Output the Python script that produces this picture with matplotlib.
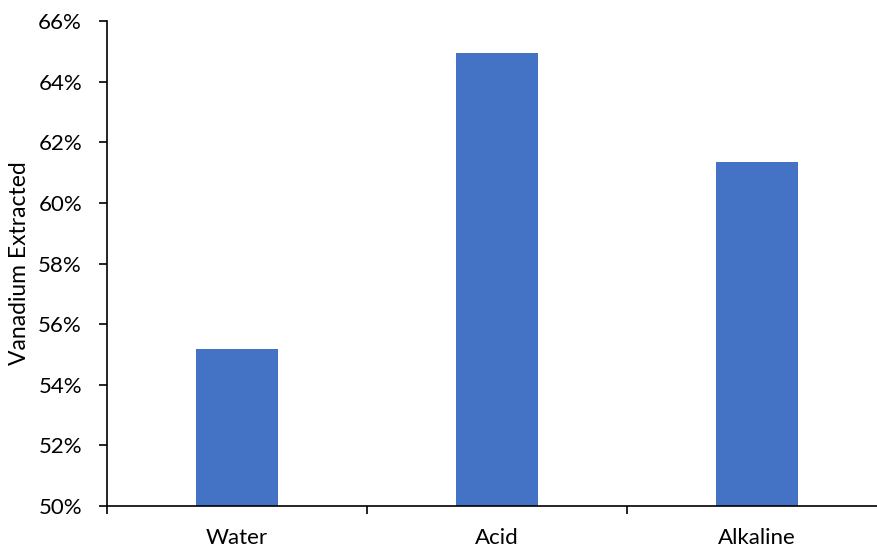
import numpy as np
import matplotlib.pyplot as plt
from matplotlib.ticker import PercentFormatter

# vanadium recovery by leaching medium
categories = ['Water', 'Acid', 'Alkaline']
extracted = [55.17, 64.95, 61.36]  # percent

bar_color = '#4472C4'
plt.rcParams['font.family'] = ['Lato', 'DejaVu Sans']
fsize = 16

fig = plt.figure(figsize=(8.77, 5.49), dpi=100)
ax = fig.add_axes([107/877, 1 - 506/549, 780/877, 485/549])

x = np.arange(len(categories))
ax.bar(x, extracted, width=0.315, color=bar_color, zorder=2)

ax.set_xlim(-0.5, len(categories) - 0.5)
ax.set_ylim(50, 66)
ax.set_yticks(np.arange(50, 67, 2))
ax.yaxis.set_major_formatter(PercentFormatter(decimals=0))

# category labels centred, tick marks sit between categories
ax.set_xticks(x)
ax.set_xticklabels(categories)
ax.tick_params(axis='x', length=0, pad=16, labelsize=fsize)
ax.set_xticks(np.arange(-0.5, len(categories)), minor=True)
ax.tick_params(axis='x', which='minor', length=6, width=1.2, color='black')
ax.tick_params(axis='y', length=6, width=1.2, pad=12, labelsize=fsize)

ax.set_ylabel('Vanadium Extracted', fontsize=fsize + 0.5, labelpad=6)

for side in ['top', 'right']:
    ax.spines[side].set_visible(False)
ax.spines['left'].set_linewidth(1.2)
ax.spines['bottom'].set_linewidth(1.2)

fig.savefig('out.png', dpi=100)
